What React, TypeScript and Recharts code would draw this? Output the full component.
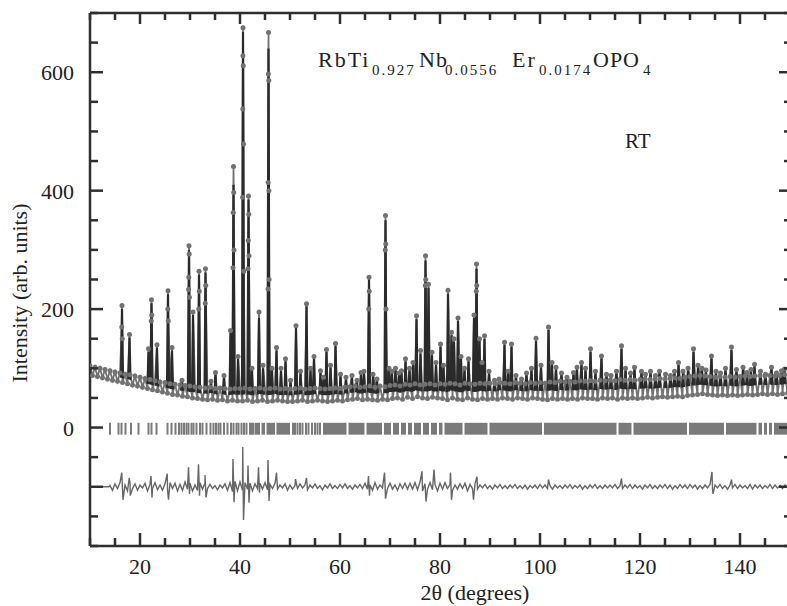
import React from 'react';
import { ComposedChart, Line, XAxis, YAxis, ReferenceLine, ReferenceArea } from 'recharts';

const SERIF = '"Liberation Serif", "DejaVu Serif", serif';
const INK = '#2f2f2f';
const OBS = '#727272';
const CALC = '#2a2a2a';
const BRAGG = '#7a7a7a';
const DIFF = '#676767';

// observed background, 10.0 to 149.5 deg, every 0.5 deg
const bgObs = [
  104, 88, 102, 86, 100, 84, 98, 82, 96, 80, 94, 78, 92, 76, 90, 74, 89, 72, 87, 70,
  85, 68, 83, 66, 81, 64, 79, 62, 77, 60, 76, 58, 74, 56, 73, 55, 72, 53, 71, 52,
  70, 50, 69, 49, 68, 48, 67, 47, 68, 48, 66, 46, 67, 47, 66, 45, 65, 46, 66, 45,
  66, 45, 67, 46, 65, 44, 66, 45, 67, 46, 65, 44, 66, 45, 67, 46, 65, 45, 66, 44,
  65, 44, 66, 45, 67, 46, 65, 44, 66, 45, 67, 46, 66, 45, 65, 44, 66, 45, 67, 46,
  66, 45, 68, 47, 69, 48, 70, 49, 68, 47, 69, 48, 70, 47, 68, 46, 70, 48, 69, 47,
  71, 49, 72, 50, 70, 48, 73, 51, 72, 49, 74, 52, 72, 50, 73, 49, 74, 51, 72, 50,
  74, 49, 73, 47, 75, 50, 74, 48, 72, 47, 75, 50, 74, 48, 73, 47, 75, 49, 74, 48,
  75, 49, 74, 48, 76, 50, 75, 49, 74, 48, 76, 50, 75, 49, 74, 48, 76, 50, 75, 49,
  76, 48, 75, 47, 77, 49, 76, 48, 78, 49, 77, 48, 78, 49, 77, 48, 79, 50, 78, 49,
  79, 49, 78, 48, 80, 50, 79, 49, 80, 50, 79, 48, 81, 50, 80, 49, 81, 50, 80, 49,
  81, 50, 82, 51, 81, 50, 82, 51, 83, 52, 82, 51, 83, 52, 84, 53, 83, 52, 85, 54,
  86, 55, 87, 56, 88, 57, 87, 56, 86, 55, 85, 54, 86, 55, 85, 54, 86, 55, 85, 54,
  86, 55, 87, 56, 86, 55, 87, 56, 88, 57, 87, 56, 88, 57, 87, 56, 88, 57, 89, 58,
];

// reflections: [2theta, observed, calculated]
const peaks = [
  [16.4, 206, 200], [17.9, 157, 152], [21.7, 133, 128], [22.3, 216, 210], [23.4, 140, 135],
  [25.6, 231, 225], [26.4, 135, 130], [28.4, 80, 78], [29.8, 307, 300], [30.6, 195, 190],
  [31.8, 264, 258], [33.1, 268, 262], [34.2, 78, 76], [35.1, 93, 90], [36.8, 88, 86],
  [38.1, 164, 160], [38.7, 441, 410], [39.6, 120, 116], [40.6, 675, 668], [41.7, 391, 385],
  [42.4, 100, 98], [43.8, 195, 185], [44.6, 105, 100], [45.7, 667, 640], [46.4, 100, 98],
  [47.3, 135, 130], [48.2, 100, 96], [49.1, 116, 112], [50.1, 80, 78], [51.2, 172, 168],
  [52.1, 95, 92], [53.3, 209, 205], [54.1, 100, 97], [54.8, 120, 117], [56.1, 96, 94],
  [56.7, 85, 84], [57.3, 132, 128], [58.1, 105, 102], [59.1, 142, 138], [60.1, 90, 88],
  [61.2, 85, 84], [62.4, 88, 85], [63.4, 80, 78], [64.2, 93, 91], [64.8, 95, 92],
  [65.8, 254, 250], [66.6, 90, 88], [67.4, 82, 80], [69.1, 358, 350], [69.8, 100, 97],
  [70.4, 95, 93], [71.1, 100, 98], [71.8, 92, 90], [72.3, 96, 93], [73.1, 116, 112],
  [73.9, 100, 98], [74.6, 110, 106], [75.3, 189, 183], [76.1, 130, 125], [77.1, 290, 282],
  [77.7, 242, 236], [78.4, 127, 122], [79.2, 110, 106], [80.1, 141, 137], [80.7, 105, 102],
  [81.6, 232, 226], [82.3, 161, 156], [82.8, 150, 145], [83.6, 185, 180], [84.2, 120, 116],
  [84.9, 100, 97], [85.7, 116, 112], [86.8, 190, 185], [87.3, 276, 268], [87.9, 150, 146],
  [88.4, 110, 107], [88.9, 155, 150], [89.8, 95, 92], [90.9, 80, 78], [91.8, 82, 80],
  [92.9, 144, 140], [93.6, 95, 92], [94.3, 141, 137], [95.2, 88, 86], [96.3, 82, 80],
  [97.3, 92, 90], [98.3, 100, 97], [99.2, 151, 146], [100.2, 105, 102], [101.7, 170, 165],
  [102.4, 110, 107], [103.2, 102, 100], [104.3, 92, 90], [105.4, 85, 84], [106.7, 93, 90],
  [107.4, 102, 99], [108.3, 110, 107], [109.1, 100, 97], [110.1, 133, 128], [111.1, 95, 92],
  [112.3, 121, 117], [113.3, 90, 88], [114.2, 88, 86], [115.3, 95, 93], [116.3, 138, 133],
  [117.1, 100, 97], [118.1, 92, 90], [118.9, 102, 100], [120.3, 95, 93], [121.1, 90, 88],
  [122.1, 95, 93], [123.1, 88, 86], [123.9, 95, 93], [125.1, 90, 88], [126.1, 88, 86],
  [126.9, 95, 92], [127.7, 110, 106], [128.6, 95, 92], [129.6, 100, 97], [130.7, 133, 128],
  [131.6, 105, 102], [132.4, 100, 98], [133.2, 97, 95], [134.3, 121, 117], [135.2, 95, 93],
  [136.1, 92, 90], [137.1, 100, 97], [138.3, 136, 131], [139.3, 98, 95], [140.6, 102, 100],
  [141.4, 93, 91], [142.2, 98, 96], [142.9, 107, 104], [144.1, 95, 93], [145.1, 90, 88],
  [146.3, 102, 100], [147.3, 92, 90], [148.3, 96, 94], [148.9, 99, 97],
];

// extra observed points on the flanks of the strongest reflections
const peakSides = [
  [16.35, 170], [16.45, 150], [22.25, 180], [22.35, 190], [25.55, 200], [25.65, 180],
  [29.72, 233], [29.76, 254], [29.84, 293], [29.88, 220], [31.75, 200], [31.85, 230],
  [33.05, 210], [33.15, 240], [38.6, 270], [38.65, 363], [38.75, 397], [38.8, 300],
  [40.52, 389], [40.55, 538], [40.58, 628], [40.65, 611], [40.7, 479], [40.75, 264],
  [41.6, 268], [41.65, 316], [41.75, 360], [41.8, 290], [45.6, 234], [45.63, 414],
  [45.67, 597], [45.75, 586], [45.78, 400], [45.82, 250], [65.75, 200], [65.85, 230],
  [69.05, 300], [69.15, 310], [69.2, 200], [77.05, 240], [77.15, 250], [87.25, 230], [87.35, 240],
];

// difference curve: deviation from the -100 offset, 14.0 to 149.5 deg every 0.5 deg
const diffNoise = [
  2, -6, 5, -3, 7, -4, 3, -7, 6, -3, 5, -6, 3, -2, 6, -7, 4, -3, 7, -5,
  3, -6, 5, -4, 7, -3, 6, -7, 4, -6, 8, -4, 6, -7, 3, -6, 7, -4, 6, -3,
  4, -3, 2, -5, 3, -2, 5, -6, 7, -8, 9, -7, 8, -6, 7, -4, 6, -7, 5, -3,
  6, -4, 7, -5, 4, -3, 6, -4, 3, -2, 5, -6, 3, -4, 2, -3, 5, -2, 3, -5,
  3, -2, 5, -3, 2, -5, 3, -2, 5, -3, 2, -3, 4, -2, 5, -3, 2, -4, 3, -2,
  4, -3, 6, -4, 3, -6, 7, -4, 3, -2, 5, -3, 6, -4, 3, -6, 5, -3, 6, -4,
  6, -4, 7, -5, 8, -7, 5, -4, 7, -5, 4, -7, 6, -4, 7, -3, 4, -6, 3, -4,
  5, -3, 6, -7, 4, -3, 5, -4, 3, -2, 4, -3, 2, -4, 3, -2, 4, -3, 2, -3,
  3, -2, 4, -3, 2, -3, 3, -4, 2, -2, 3, -3, 4, -2, 3, -3, 2, -4, 3, -2,
  2, -3, 3, -2, 4, -3, 2, -2, 3, -4, 2, -3, 3, -2, 4, -3, 2, -3, 3, -2,
  3, -2, 4, -3, 2, -3, 3, -2, 4, -3, 3, -2, 2, -4, 3, -2, 4, -3, 2, -3,
  3, -2, 4, -3, 3, -4, 2, -3, 4, -2, 3, -3, 4, -2, 3, -4, 2, -3, 3, -2,
  4, -3, 3, -2, 4, -3, 2, -4, 3, -2, 4, -3, 3, -2, 2, -3, 4, -4, 3, -2,
  3, -3, 2, -2, 4, -3, 3, -2, 2, -3, 3, -2,
];

const diffSpikes = [
  [10, -100], [13.8, -100],
  [16.35, -76], [16.6, -122], [17.85, -85], [18.05, -115], [22.2, -82], [22.4, -118],
  [25.45, -78], [25.7, -122], [29.7, -67], [29.9, -112], [31.7, -62], [31.9, -115],
  [33.0, -80], [33.2, -118], [38.6, -53], [38.8, -126], [40.55, -33], [40.7, -156],
  [41.6, -64], [41.8, -127], [43.7, -67], [43.9, -110], [45.6, -55], [45.8, -124],
  [47.3, -76], [51.1, -87], [53.3, -85], [65.7, -82], [65.9, -115], [68.9, -76],
  [69.1, -120], [76.4, -74], [77.2, -125], [78.8, -71], [82.1, -76], [82.3, -122],
  [86.7, -122], [87.4, -83], [101.7, -88], [116.3, -86], [134.4, -75], [134.6, -112],
  [138.3, -88],
];

// Bragg reflection markers
const braggTicks = [
  14.0, 15.7, 16.3, 17.1, 18.2, 19.7, 21.7, 22.3, 23.3, 25.5, 26.3, 27.1, 27.8, 28.3,
  28.8, 29.3, 29.7, 30.3, 30.7, 31.3, 32.0, 32.5, 33.3, 34.1, 34.7, 35.2, 35.7, 36.1,
  36.8, 37.5, 38.2, 38.7, 39.3, 39.7, 40.3, 40.8, 41.3, 42.0, 42.4, 42.7, 50.6, 51.0,
  51.5, 52.0, 52.5, 53.2, 53.7, 54.4, 55.0, 55.5, 56.0,
];
const braggSpans = [
  [43.0, 44.0], [44.3, 45.0], [45.3, 47.0], [47.3, 50.0], [56.6, 61.3], [61.7, 64.9],
  [65.3, 68.4], [68.8, 70.2], [70.6, 71.8], [72.2, 73.2], [73.6, 74.4], [74.8, 76.2],
  [76.6, 77.8], [78.2, 79.4], [79.8, 80.5], [80.9, 84.5], [84.9, 89.5], [89.9, 100.4],
  [100.8, 115.3], [115.7, 118.3], [118.7, 129.4], [129.8, 136.8], [137.2, 143.3],
  [143.7, 144.4], [144.8, 145.4], [145.8, 146.4], [146.8, 150],
];

const xTicks = [10, 15, 20, 25, 30, 35, 40, 45, 50, 55, 60, 65, 70, 75, 80, 85, 90, 95, 100, 105, 110, 115, 120, 125, 130, 135, 140, 145, 150];
const xLabels = [20, 40, 60, 80, 100, 120, 140];
const yTicks = [-200, -150, -100, -50, 0, 50, 100, 150, 200, 250, 300, 350, 400, 450, 500, 550, 600, 650, 700];
const yLabels = [0, 200, 400, 600];
const yMajor = [-100, 0, 200, 400, 600];

const obsPts = [
  ...bgObs.map((y, i) => ({ x: 10 + i * 0.5, y })),
  ...peaks.map(([x, o]) => ({ x, y: o })),
  ...peakSides.map(([x, y]) => ({ x, y })),
].sort((a, b) => a.x - b.x);

const footAt = (x: number) => {
  const i = Math.floor((x - 10) * 2);
  return (bgObs[i] + bgObs[Math.min(i + 1, bgObs.length - 1)]) / 2;
};

const calcPts: { x: number; y: number | null }[] = [];
peaks.forEach(([x, , c]) => {
  calcPts.push({ x: x - 0.2, y: footAt(x - 0.2) });
  calcPts.push({ x, y: c });
  calcPts.push({ x: x + 0.2, y: footAt(x + 0.2) });
  calcPts.push({ x: x + 0.21, y: null });
});

const diffPts = [
  ...diffNoise.map((d, i) => ({ x: 14 + i * 0.5, y: -100 + d })),
  ...diffSpikes.map(([x, y]) => ({ x, y })),
].sort((a, b) => a.x - b.x);

const txt = { fontFamily: SERIF, fill: '#222' };

const BottomTick = (p: any) => {
  const v = p.payload.value;
  const major = v % 20 === 0;
  return (
    <g>
      <line x1={p.x} x2={p.x} y1={p.y} y2={p.y - (major ? 13 : 8)} stroke={INK} strokeWidth={2.5} />
      {xLabels.includes(v) && (
        <text x={p.x} y={p.y + 28} textAnchor="middle" fontSize={22} style={txt}>{v}</text>
      )}
    </g>
  );
};
const TopTick = (p: any) => {
  const major = p.payload.value % 20 === 0;
  return <line x1={p.x} x2={p.x} y1={p.y} y2={p.y + (major ? 11 : 7)} stroke={INK} strokeWidth={2.5} />;
};
const LeftTick = (p: any) => {
  const v = p.payload.value;
  const major = yMajor.includes(v);
  return (
    <g>
      <line x1={p.x} x2={p.x + (major ? 13 : 8)} y1={p.y} y2={p.y} stroke={INK} strokeWidth={2.5} />
      {yLabels.includes(v) && (
        <text x={p.x - 16} y={p.y + 8} textAnchor="end" fontSize={22} style={txt}>{v}</text>
      )}
    </g>
  );
};
const RightTick = (p: any) => {
  const major = yMajor.includes(p.payload.value);
  return <line x1={p.x} x2={p.x - (major ? 11 : 6)} y1={p.y} y2={p.y} stroke={INK} strokeWidth={2.5} />;
};

const axisLine = { stroke: INK, strokeWidth: 2.5 };

export default function App() {
  return (
    <div style={{ position: 'fixed', left: 0, top: 0, width: 787, height: 606, overflow: 'hidden', background: '#fff' }}>
      <ComposedChart width={800} height={606} margin={{ top: 12, right: 9, bottom: 59, left: 89 }}>
        <XAxis xAxisId={0} dataKey="x" type="number" domain={[10, 150]} allowDataOverflow ticks={xTicks} interval={0}
          height={1} tickSize={0} tickMargin={0} tickLine={false} axisLine={axisLine} tick={BottomTick} />
        <XAxis xAxisId="top" orientation="top" dataKey="x" type="number" domain={[10, 150]} allowDataOverflow ticks={xTicks}
          interval={0} height={1} tickSize={0} tickMargin={0} tickLine={false} axisLine={axisLine} tick={TopTick} />
        <YAxis yAxisId={0} type="number" domain={[-200, 700]} allowDataOverflow ticks={yTicks} interval={0}
          width={1} tickSize={0} tickMargin={0} tickLine={false} axisLine={axisLine} tick={LeftTick} />
        <YAxis yAxisId="right" orientation="right" type="number" domain={[-200, 700]} allowDataOverflow ticks={yTicks}
          interval={0} width={1} tickSize={0} tickMargin={0} tickLine={false} axisLine={axisLine} tick={RightTick} />

        {braggSpans.map(([a, b]) => (
          <ReferenceArea key={'s' + a} x1={a} x2={b} y1={-12} y2={8} fill={BRAGG} fillOpacity={1} stroke="none" />
        ))}
        {braggTicks.map((t) => (
          <ReferenceLine key={'t' + t} segment={[{ x: t, y: -12 }, { x: t, y: 8 }]} stroke={BRAGG} strokeWidth={2} />
        ))}

        <Line data={obsPts} dataKey="y" type="linear" stroke={OBS} strokeWidth={1.8} dot={false} activeDot={false}
          isAnimationActive={false} />
        <Line data={calcPts} dataKey="y" type="linear" stroke={CALC} strokeWidth={2.2} dot={false} activeDot={false}
          connectNulls={false} isAnimationActive={false} />
        <Line data={obsPts} dataKey="y" type="linear" stroke="none" activeDot={false}
          dot={{ r: 2.5, fill: OBS, stroke: 'none' }} isAnimationActive={false} />
        <Line data={diffPts} dataKey="y" type="linear" stroke={DIFF} strokeWidth={1.4} dot={false} activeDot={false}
          isAnimationActive={false} />
      </ComposedChart>

      <svg width={800} height={606} style={{ position: 'absolute', left: 0, top: 0, pointerEvents: 'none', ...txt }}>
        <text y={67} fontSize={22} style={txt}>
          <tspan x={318} letterSpacing={2}>RbTi</tspan>
          <tspan x={372} fontSize={15} dy={8} letterSpacing={2}>0.927</tspan>
          <tspan x={419} dy={-8} letterSpacing={1}>Nb</tspan>
          <tspan x={445} fontSize={15} dy={8} letterSpacing={2}>0.0556</tspan>
          <tspan x={512} dy={-8} letterSpacing={2}>Er</tspan>
          <tspan x={539} fontSize={15} dy={8} letterSpacing={2}>0.0174</tspan>
          <tspan x={593} dy={-8} letterSpacing={1}>OPO</tspan>
          <tspan x={643} fontSize={15} dy={8}>4</tspan>
        </text>
        <text x={625} y={148} fontSize={21} style={txt}>RT</text>
        <text transform="translate(27,293) rotate(-90)" textAnchor="middle" fontSize={22} style={txt}>
          Intensity (arb. units)
        </text>
        <text x={475} y={600} textAnchor="middle" fontSize={22} style={txt}>2θ (degrees)</text>
      </svg>
    </div>
  );
}
